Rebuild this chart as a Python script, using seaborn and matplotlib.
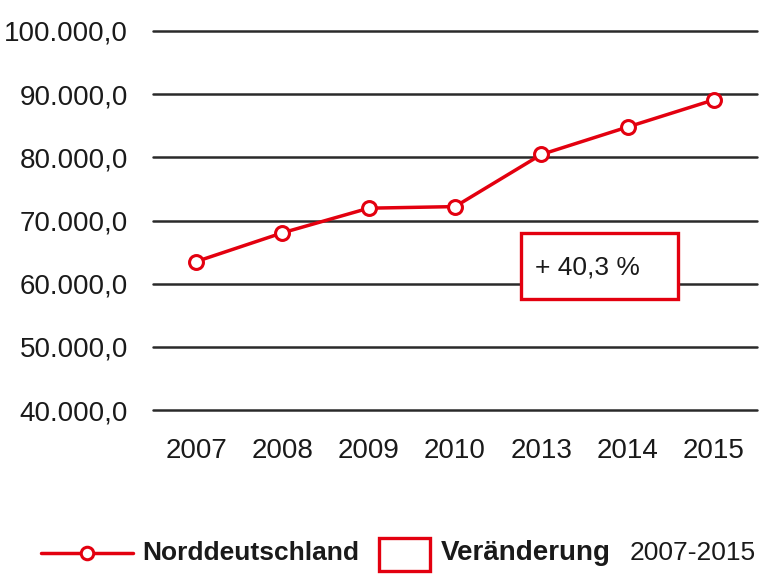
import matplotlib
matplotlib.use("Agg")
import matplotlib.pyplot as plt
import seaborn as sns
import pandas as pd
from matplotlib.patches import Rectangle
from matplotlib.lines import Line2D

# ---- data ----
years = ["2007", "2008", "2009", "2010", "2013", "2014", "2015"]
values = [63500, 68050, 71950, 72200, 80450, 84800, 89100]
y_ticks = [40000, 50000, 60000, 70000, 80000, 90000, 100000]
y_tick_labels = ["40.000,0", "50.000,0", "60.000,0", "70.000,0",
                 "80.000,0", "90.000,0", "100.000,0"]
series_name = "Norddeutschland"
change_label = "+ 40,3 %"
change_legend_bold = "Veränderung"
change_legend_rest = "2007-2015"

RED = "#E3000F"
TXT = "#1a1a1a"
GRID = "#2a2a2a"
FONT = ["Liberation Sans Narrow", "Liberation Sans", "DejaVu Sans"]

sns.set_theme(style="white")
plt.rcParams["font.family"] = FONT

df = pd.DataFrame({"Jahr": years, "Wert": values})

fig = plt.figure(figsize=(7.62, 5.75), dpi=100)
ax = fig.add_axes([153 / 762, 1 - 410 / 575, 604 / 762, (410 - 31) / 575])

sns.lineplot(data=df, x="Jahr", y="Wert", ax=ax, sort=False, color=RED,
             linewidth=2.5, marker="o", markersize=10,
             markerfacecolor="white", markeredgecolor=RED,
             markeredgewidth=2.2, zorder=5)

ax.set_xlim(-0.5, len(years) - 0.5)
ax.set_ylim(40000, 100000)
ax.set_yticks(y_ticks)
ax.set_yticklabels(y_tick_labels)
for y in y_ticks:
    ax.axhline(y, color=GRID, linewidth=1.8, zorder=1, clip_on=False)
for s in ax.spines.values():
    s.set_visible(False)
ax.set_xlabel("")
ax.set_ylabel("")
ax.tick_params(axis="y", length=0, pad=18, labelsize=20, labelcolor=TXT)
ax.tick_params(axis="x", length=0, pad=20, labelsize=20, labelcolor=TXT)

# change box
rect = Rectangle((3.77, 57520), 5.58 - 3.77, 67950 - 57520,
                 facecolor="white", edgecolor=RED, linewidth=2.4, zorder=4)
ax.add_patch(rect)
ax.text(3.93, 62600, change_label, fontsize=19, color=TXT,
        va="center", ha="left", zorder=6)

# legend (manual)
W, H = 762, 575
def fx(px):
    return px / W
def fy(py):
    return 1 - py / H

ly = 553
fig.add_artist(Line2D([fx(41), fx(133)], [fy(ly), fy(ly)], color=RED,
                      linewidth=2.5, transform=fig.transFigure))
fig.add_artist(Line2D([fx(87)], [fy(ly)], color=RED, marker="o",
                      markersize=9, markerfacecolor="white",
                      markeredgecolor=RED, markeredgewidth=2.2,
                      transform=fig.transFigure))
fig.text(fx(142), fy(ly), series_name, fontsize=19, fontweight="bold",
         color=TXT, va="center", ha="left")
fig.add_artist(Rectangle((fx(379), fy(571)), fx(430) - fx(379),
                         fy(538) - fy(571), facecolor="white",
                         edgecolor=RED, linewidth=2.4,
                         transform=fig.transFigure))
fig.text(fx(441), fy(ly), change_legend_bold, fontsize=20, fontweight="bold",
         color=TXT, va="center", ha="left")
fig.text(fx(630), fy(ly), change_legend_rest, fontsize=19,
         color=TXT, va="center", ha="left")

fig.savefig("out.png", dpi=100, facecolor="white")
